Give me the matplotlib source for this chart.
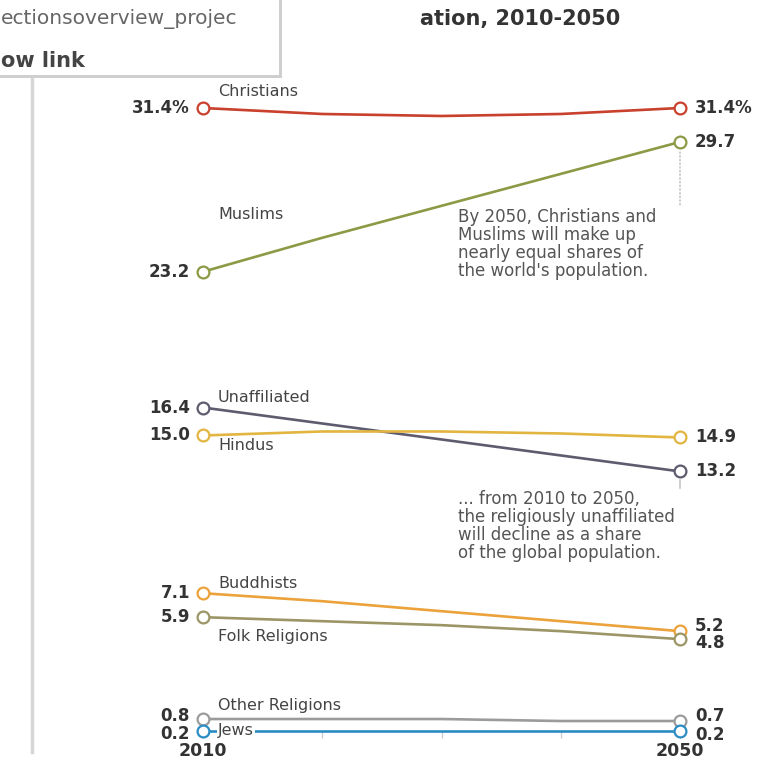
import matplotlib
matplotlib.use("Agg")
import matplotlib.pyplot as plt
from matplotlib.lines import Line2D
from matplotlib.patches import Rectangle

years = [2010, 2020, 2030, 2040, 2050]

groups = ["Christians", "Muslims", "Unaffiliated", "Hindus", "Buddhists",
          "Folk Religions", "Other Religions", "Jews"]
christians = [31.4, 31.1, 31.0, 31.1, 31.4]
muslims = [23.2, 24.9, 26.5, 28.1, 29.7]
unaffiliated = [16.4, 15.6, 14.8, 14.0, 13.2]
hindus = [15.0, 15.2, 15.2, 15.1, 14.9]
buddhists = [7.1, 6.7, 6.2, 5.7, 5.2]
folk = [5.9, 5.7, 5.5, 5.2, 4.8]
other = [0.8, 0.8, 0.8, 0.7, 0.7]
jews = [0.2, 0.2, 0.2, 0.2, 0.2]

start_labels = ["31.4%", "23.2", "16.4", "15.0", "7.1", "5.9", "0.8", "0.2"]
end_labels = ["31.4%", "29.7", "13.2", "14.9", "5.2", "4.8", "0.7", "0.2"]

series = [christians, muslims, unaffiliated, hindus, buddhists, folk, other, jews]
colors = ["#c9402c", "#8a9a45", "#5e5b6e", "#e2b540", "#eba23a",
          "#9c9566", "#9b9b9b", "#2b8cc4"]
# name label offset (pixels) from the 2010 point
name_dy = [16, 57, 10, -10, 10, -19, 14, 0]
# small nudges so crowded value labels do not collide
start_dy = [0, 0, 0, 0, 0, 0, 3, -3]
end_dy = [0, 0, 0, 0, 5, -4, 5, -4]

fig = plt.figure(figsize=(7.78, 7.6), dpi=100)
ax = fig.add_axes([203 / 778, 29 / 760, 477 / 778, 623 / 760])
ax.set_xlim(2010, 2050)
ax.set_ylim(0.2, 31.4)
for s in ax.spines.values():
    s.set_visible(False)
ax.set_yticks([])

ax.set_xticks(years)
ax.set_xticklabels(["2010", "", "", "", "2050"], fontsize=12.5,
                   fontweight="bold", color="#333333")
ax.tick_params(axis="x", length=5, width=1, color="#cccccc", pad=3)

for name, vals, c, dy, l0, l1, d0, d1 in zip(groups, series, colors, name_dy,
                                             start_labels, end_labels,
                                             start_dy, end_dy):
    ax.plot(years, vals, color=c, lw=1.9, clip_on=False, zorder=3)
    ax.plot([years[0], years[-1]], [vals[0], vals[-1]], ls="none",
            marker="o", ms=8.5, mfc="white", mec=c, mew=1.6,
            clip_on=False, zorder=5)
    ax.annotate(l0, (years[0], vals[0]), xytext=(-13, d0),
                textcoords="offset pixels", ha="right", va="center",
                fontsize=12, fontweight="bold", color="#333333")
    ax.annotate(l1, (years[-1], vals[-1]), xytext=(15, d1),
                textcoords="offset pixels", ha="left", va="center",
                fontsize=12, fontweight="bold", color="#333333")
    bbox = None
    if name == "Jews":
        bbox = dict(boxstyle="square,pad=0.05", fc="white", ec="none")
    ax.annotate(name, (years[0], vals[0]), xytext=(15, dy),
                textcoords="offset pixels", ha="left", va="center",
                fontsize=11.5, color="#444444", bbox=bbox, zorder=4)

note_kw = dict(textcoords="offset pixels", ha="left", va="top",
               fontsize=12, color="#555555", linespacing=1.0)
ax.annotate("By 2050, Christians and\nMuslims will make up\n"
            "nearly equal shares of\nthe world's population.",
            (years[-1], muslims[-1]), xytext=(-222, -66), **note_kw)
ax.annotate("", (years[-1], muslims[-1]), xytext=(0, -63),
            textcoords="offset pixels",
            arrowprops=dict(arrowstyle="-", color="#bbbbbb", lw=1,
                            ls=":", shrinkA=0, shrinkB=6))
ax.annotate("... from 2010 to 2050,\nthe religiously unaffiliated\n"
            "will decline as a share\nof the global population.",
            (years[-1], unaffiliated[-1]), xytext=(-222, -19), **note_kw)
ax.annotate("", (years[-1], unaffiliated[-1]), xytext=(0, -17),
            textcoords="offset pixels",
            arrowprops=dict(arrowstyle="-", color="#bbbbbb", lw=1,
                            shrinkA=0, shrinkB=6))

# left rule of the page
fig.add_artist(Line2D([32 / 778, 32 / 778], [8 / 760, 1 - 70 / 760],
                      color="#d6d6d6", lw=2.5))

# title, partly hidden behind the popup
fig.text(420 / 778, 1 - 19 / 760, "ation, 2010-2050", fontsize=15,
         fontweight="bold", color="#333333", va="center", ha="left")

# popup box over the top-left corner
fig.add_artist(Rectangle((0, 1 - 78 / 760), 282 / 778, 78 / 760,
                         transform=fig.transFigure, fc="#cfcfcf",
                         ec="none", zorder=9))
fig.add_artist(Rectangle((0, 1 - 75 / 760), 279 / 778, 75 / 760,
                         transform=fig.transFigure, fc="white",
                         ec="none", zorder=10))
fig.text(1 / 778, 1 - 19 / 760, "ectionsoverview_projec", fontsize=14.5,
         color="#666666", va="center", ha="left", zorder=11)
fig.text(1 / 778, 1 - 61 / 760, "ow link", fontsize=15, fontweight="bold",
         color="#444444", va="center", ha="left", zorder=11)

fig.savefig("out.png", dpi=100)
